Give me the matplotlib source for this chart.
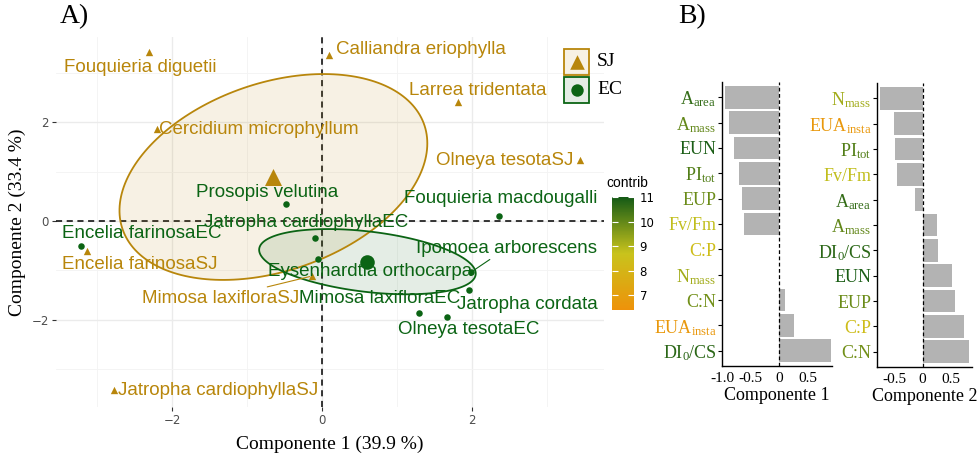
import matplotlib
matplotlib.use('Agg')
import matplotlib.pyplot as plt
import numpy as np
from matplotlib.colors import LinearSegmentedColormap, Normalize
from matplotlib.patches import Polygon, Rectangle
import matplotlib.colorbar as mcolorbar

plt.rcParams['mathtext.fontset'] = 'custom'
plt.rcParams['mathtext.rm'] = 'Liberation Serif'
plt.rcParams['mathtext.it'] = 'Liberation Serif:italic'

# individuals (PCA scores)
sj_names = ['Fouquieria diguetii', 'Calliandra eriophylla', 'Cercidium microphyllum',
            'Larrea tridentata', 'Olneya tesotaSJ', 'Encelia farinosaSJ',
            'Mimosa laxifloraSJ', 'Jatropha cardiophyllaSJ']
sj_x = [-2.31, 0.09, -2.20, 1.81, 3.44, -3.13, -0.13, -2.77]
sj_y = [3.41, 3.35, 1.86, 2.40, 1.23, -0.61, -1.11, -3.41]

ec_names = ['Prosopis velutina', 'Jatropha cardiophyllaEC', 'Encelia farinosaEC',
            'Eysenhardtia orthocarpa', 'Mimosa laxifloraEC', 'Olneya tesotaEC',
            'Jatropha cordata', 'Ipomoea arborescens', 'Fouquieria macdougalli']
ec_x = [-0.48, -0.09, -3.21, -0.05, 1.29, 1.67, 1.96, 1.99, 2.36]
ec_y = [0.34, -0.34, -0.51, -0.77, -1.86, -1.94, -1.39, -1.03, 0.10]

# variables: loadings on each component and contribution
var_names = ['Aarea', 'Amass', 'EUN', 'PItot', 'EUP', 'FvFm', 'CP', 'Nmass', 'CN', 'EUAinsta', 'DI0CS']
var_labels = ['A$_{\\mathrm{area}}$', 'A$_{\\mathrm{mass}}$', 'EUN', 'PI$_{\\mathrm{tot}}$', 'EUP',
              'Fv/Fm', 'C:P', 'N$_{\\mathrm{mass}}$', 'C:N', 'EUA$_{\\mathrm{insta}}$', 'DI$_0$/CS']
comp1 = [-0.94, -0.87, -0.79, -0.70, -0.65, -0.61, 0.002, 0.006, 0.10, 0.26, 0.91]
comp2 = [-0.13, 0.25, 0.52, -0.48, 0.57, -0.45, 0.73, -0.75, 0.82, -0.50, 0.27]
contrib = [10.6, 10.0, 10.9, 10.2, 9.9, 8.8, 8.4, 9.2, 9.8, 6.7, 10.7]

col_sj = '#B8860B'
col_ec = '#0B6414'
cmap = LinearSegmentedColormap.from_list('contrib', [(0, '#EE920A'), (0.5, '#C9C31C'), (1, '#145A16')])
norm = Normalize(vmin=6.4, vmax=11.0)

# label positions (repelled text), data units
sj_lab = [(-2.43, 3.11), (1.32, 3.47), (-0.85, 1.84), (2.07, 2.63), (2.43, 1.23),
          (-2.43, -0.87), (-1.35, -1.56), (-1.39, -3.43)]
ec_lab = [(-0.73, 0.57), (-0.21, -0.04), (-2.40, -0.26), (0.64, -1.03), (0.77, -1.56),
          (1.96, -2.20), (2.74, -1.68), (2.46, -0.55), (2.38, 0.46)]
segs_sj = ['Mimosa laxifloraSJ']
segs_ec = ['Ipomoea arborescens']

fig = plt.figure(figsize=(9.8, 4.63), dpi=100)

ax = fig.add_axes([56 / 980, 1 - 407 / 463, 548 / 980, 370 / 463])
ax.set_xlim(-3.55, 3.76)
ax.set_ylim(-3.76, 3.72)
for s in ax.spines.values():
    s.set_visible(False)
ax.set_xticks([-2, 0, 2])
ax.set_yticks([-2, 0, 2])
ax.set_xticks([-3, -1, 1, 3], minor=True)
ax.set_yticks([-3, -1, 1, 3], minor=True)
ax.grid(which='major', color='#EBEBEB', lw=1.0, zorder=0)
ax.grid(which='minor', color='#F3F3F3', lw=0.6, zorder=0)
ax.tick_params(which='major', length=3, color='#333333', labelsize=8.5, labelcolor='#4D4D4D', pad=2)
ax.tick_params(which='minor', length=0)
ax.set_axisbelow(True)
ax.axhline(0, color='black', ls=(0, (4, 3)), lw=1.1, zorder=1)
ax.axvline(0, color='black', ls=(0, (4, 3)), lw=1.1, zorder=1)


def conf_ellipse(xs, ys, color, alpha):
    pts = np.column_stack([xs, ys])
    m = pts.mean(axis=0)
    cov = np.cov(pts.T)
    vals, vecs = np.linalg.eigh(cov)
    k = np.sqrt(5.991 / len(xs))
    t = np.linspace(0, 2 * np.pi, 200)
    circ = np.column_stack([np.cos(t), np.sin(t)]) * np.sqrt(vals) * k
    e = circ @ vecs.T + m
    ax.add_patch(Polygon(e, closed=True, facecolor=color, alpha=alpha, edgecolor='none', zorder=1.5))
    ax.add_patch(Polygon(e, closed=True, facecolor='none', edgecolor=color, lw=1.3, zorder=2))
    return m


m_sj = conf_ellipse(sj_x, sj_y, col_sj, 0.11)
m_ec = conf_ellipse(ec_x, ec_y, col_ec, 0.11)

ax.scatter(sj_x, sj_y, marker='^', s=28, color=col_sj, zorder=3, linewidths=0)
ax.scatter(ec_x, ec_y, marker='o', s=22, color=col_ec, zorder=3, linewidths=0)
ax.scatter([m_sj[0]], [m_sj[1]], marker='^', s=150, color=col_sj, zorder=3, linewidths=0)
ax.scatter([m_ec[0]], [m_ec[1]], marker='o', s=110, color=col_ec, zorder=3, linewidths=0)

for names, xs, ys, labs, segs, c in [(sj_names, sj_x, sj_y, sj_lab, segs_sj, col_sj),
                                      (ec_names, ec_x, ec_y, ec_lab, segs_ec, col_ec)]:
    for n, x, y, (lx, ly) in zip(names, xs, ys, labs):
        if n in segs:
            ax.annotate(n, xy=(x, y), xytext=(lx, ly), ha='center', va='center', color=c,
                        fontsize=13.5, family='Liberation Sans', zorder=4,
                        arrowprops=dict(arrowstyle='-', color=c, lw=0.8, shrinkA=0, shrinkB=2))
        else:
            ax.text(lx, ly, n, ha='center', va='center', color=c, fontsize=13.5,
                    family='Liberation Sans', zorder=4)

ax.set_xlabel('Componente 1 (39.9 %)', family='Liberation Serif', fontsize=14, labelpad=6)
ax.set_ylabel('Componente 2 (33.4 %)', family='Liberation Serif', fontsize=14, labelpad=4)
fig.text(60 / 980, 1 - 17 / 463, 'A)', family='Liberation Serif', fontsize=20, va='center')
fig.text(678 / 980, 1 - 17 / 463, 'B)', family='Liberation Serif', fontsize=20, va='center')

# legend for groups
lax = fig.add_axes([563 / 980, 1 - 104 / 463, 27 / 980, 56 / 463])
lax.set_xlim(0, 1)
lax.set_ylim(0, 2.07)
lax.axis('off')
lax.add_patch(Rectangle((0.02, 1.07), 0.96, 0.96, facecolor=col_sj, alpha=0.11, edgecolor='none'))
lax.add_patch(Rectangle((0.02, 1.07), 0.96, 0.96, facecolor='none', edgecolor=col_sj, lw=1.3))
lax.add_patch(Rectangle((0.02, 0.04), 0.96, 0.96, facecolor=col_ec, alpha=0.11, edgecolor='none'))
lax.add_patch(Rectangle((0.02, 0.04), 0.96, 0.96, facecolor='none', edgecolor=col_ec, lw=1.3))
lax.scatter([0.5], [1.55], marker='^', s=110, color=col_sj, linewidths=0)
lax.scatter([0.5], [0.52], marker='o', s=80, color=col_ec, linewidths=0)
fig.text(597 / 980, 1 - 62 / 463, 'SJ', family='Liberation Serif', fontsize=14, va='center')
fig.text(597 / 980, 1 - 90 / 463, 'EC', family='Liberation Serif', fontsize=14, va='center')

# colour bar for contrib
cax = fig.add_axes([612 / 980, 1 - 310 / 463, 22 / 980, 113 / 463])
cb = mcolorbar.ColorbarBase(cax, cmap=cmap, norm=norm, orientation='vertical')
cb.outline.set_visible(False)
cb.set_ticks([7, 8, 9, 10, 11])
cax.tick_params(length=4, color='white', direction='in', labelsize=8.5, pad=4, left=True)
fig.text(606 / 980, 1 - 183 / 463, 'contrib', fontsize=10, family='Liberation Sans', va='center')

# loading bar charts
bar_axes = [([722 / 980, 1 - 366 / 463, 110 / 980, 284 / 463], comp1, (-1.0, 0.925),
             [-1.0, -0.5, 0, 0.5], ['-1.0', '-0.5', '0', '0.5'], 'Componente 1'),
            ([877 / 980, 1 - 367 / 463, 95 / 980, 284 / 463], comp2, (-0.80, 0.87),
             [-0.5, 0, 0.5], ['-0.5', '0', '0.5'], 'Componente 2')]

for pos, vals, lim, ticks, tlabs, title in bar_axes:
    bx = fig.add_axes(pos)
    order = np.argsort(vals)
    v = np.array(vals)[order]
    labs = [var_labels[i] for i in order]
    cols = [cmap(norm(contrib[i])) for i in order]
    ypos = np.arange(len(v))
    bx.barh(ypos, v, height=0.9, color='#B3B3B3', zorder=2)
    bx.axvline(0, color='black', ls=(0, (3, 2)), lw=0.9, zorder=3)
    bx.set_ylim(len(v) - 0.4, -0.6)
    bx.set_xlim(*lim)
    bx.set_yticks(ypos)
    bx.set_yticklabels(labs, family='Liberation Serif', fontsize=13)
    for tl, c in zip(bx.get_yticklabels(), cols):
        tl.set_color(c)
    bx.set_xticks(ticks)
    bx.set_xticklabels(tlabs, family='Liberation Serif', fontsize=11)
    bx.tick_params(axis='y', length=3, width=0.8, pad=1)
    bx.tick_params(axis='x', length=0, pad=4)
    bx.spines['top'].set_visible(False)
    bx.spines['right'].set_visible(False)
    bx.spines['left'].set_linewidth(1.0)
    bx.spines['bottom'].set_linewidth(1.0)
    bx.set_xlabel(title, family='Liberation Serif', fontsize=13, labelpad=2)

fig.savefig('out.png', dpi=100)
